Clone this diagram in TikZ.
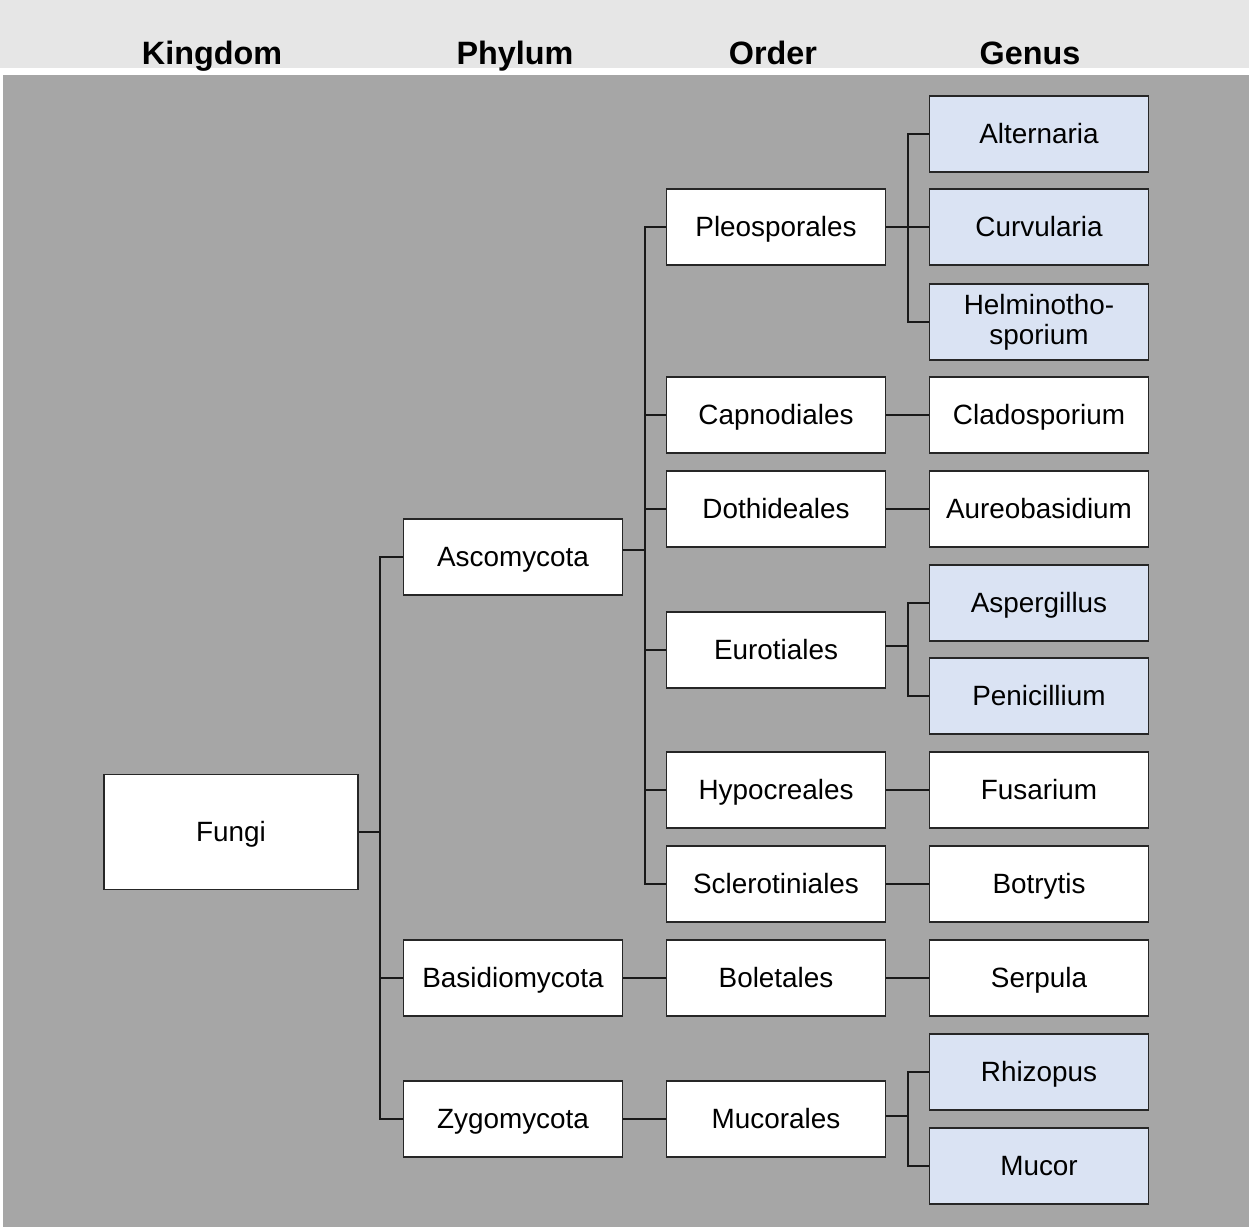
\documentclass[tikz,border=0pt]{standalone}
\usepackage{fontspec}
\setmainfont{Liberation Sans}
\usetikzlibrary{positioning}
\definecolor{headgray}{HTML}{E6E6E6}
\definecolor{bggray}{HTML}{A6A6A6}
\definecolor{genblue}{HTML}{DAE3F3}

\begin{document}
\begin{tikzpicture}[x=0.03cm, y=-0.03cm,
      boxbase/.style={rectangle, draw=black!85, line width=1.5pt, fill=white, inner sep=0pt,
        minimum width=6.57cm, minimum height=2.28cm, align=center,
        font=\fontsize{23.8}{25.5}\selectfont},
      box/.style={boxbase, text height=17pt, text depth=0pt},
      gen/.style={box, fill=genblue},
      head/.style={anchor=base, font=\fontsize{27.6}{30}\selectfont\bfseries},
      link/.style={draw=black!90, line width=1.2pt},
    ]
      \useasboundingbox (0,0) rectangle (1249,1227);
      \fill[headgray] (0,0) rectangle (1249,68);
      \fill[bggray] (3,75) rectangle (1249,1227);
      % column headers
      \node[head] (hk) at (212,64) {Kingdom};
      \node[head] (hp) at (515,64) {Phylum};
      \node[head] (ho) at (773,64) {Order};
      \node[head] (hg) at (1030,64) {Genus};
      % kingdom / phylum
      \node[box, minimum width=7.62cm, minimum height=3.45cm] (fungi) at (231,832) {Fungi};
      \node[box] (asco) at (513,557) {Ascomycota};
      \node[box] (basi) at (513,978) {Basidiomycota};
      \node[box] (zygo) at (513,1119) {Zygomycota};
      % orders
      \node[box] (pleo) at (776,227) {Pleosporales};
      \node[box] (capn) at (776,415) {Capnodiales};
      \node[box] (doth) at (776,509) {Dothideales};
      \node[box] (euro) at (776,650) {Eurotiales};
      \node[box] (hypo) at (776,790) {Hypocreales};
      \node[box] (scle) at (776,884) {Sclerotiniales};
      \node[box] (bole) at (776,978) {Boletales};
      \node[box] (muco) at (776,1119) {Mucorales};
      % genera
      \node[gen] (alte) at (1039,134) {Alternaria};
      \node[gen] (curv) at (1039,227) {Curvularia};
      \node[boxbase, fill=genblue] (helm) at (1039,322) {Helminotho-\\sporium};
      \node[box] (clad) at (1039,415) {Cladosporium};
      \node[box] (aure) at (1039,509) {Aureobasidium};
      \node[gen] (aspe) at (1039,603) {Aspergillus};
      \node[gen] (peni) at (1039,696) {Penicillium};
      \node[box] (fusa) at (1039,790) {Fusarium};
      \node[box] (botr) at (1039,884) {Botrytis};
      \node[box] (serp) at (1039,978) {Serpula};
      \node[gen] (rhiz) at (1039,1072) {Rhizopus};
      \node[gen] (muc) at (1039,1166) {Mucor};
      % bus points
      \coordinate (bk) at (380,832);
      \coordinate (ba) at (645,550);
      \coordinate (bp) at (908,227);
      \coordinate (be) at (908,646);
      \coordinate (bm) at (908,1116);
      % connectors
      \draw[link] (fungi.east) -- (bk);
      \foreach \n in {asco,basi,zygo}
        \draw[link] (bk) |- (\n.west);
      \draw[link] (asco.east |- ba) -- (ba);
      \foreach \n in {pleo,capn,doth,euro,hypo,scle}
        \draw[link] (ba) |- (\n.west);
      \draw[link] (pleo.east) -- (bp);
      \foreach \n in {alte,curv,helm}
        \draw[link] (bp) |- (\n.west);
      \draw[link] (euro.east |- be) -- (be);
      \foreach \n in {aspe,peni}
        \draw[link] (be) |- (\n.west);
      \draw[link] (muco.east |- bm) -- (bm);
      \foreach \n in {rhiz,muc}
        \draw[link] (bm) |- (\n.west);
      \draw[link] (capn) -- (clad);
      \draw[link] (doth) -- (aure);
      \draw[link] (hypo) -- (fusa);
      \draw[link] (scle) -- (botr);
      \draw[link] (basi) -- (bole);
      \draw[link] (bole) -- (serp);
      \draw[link] (zygo) -- (muco);
    \end{tikzpicture}
\end{document}
